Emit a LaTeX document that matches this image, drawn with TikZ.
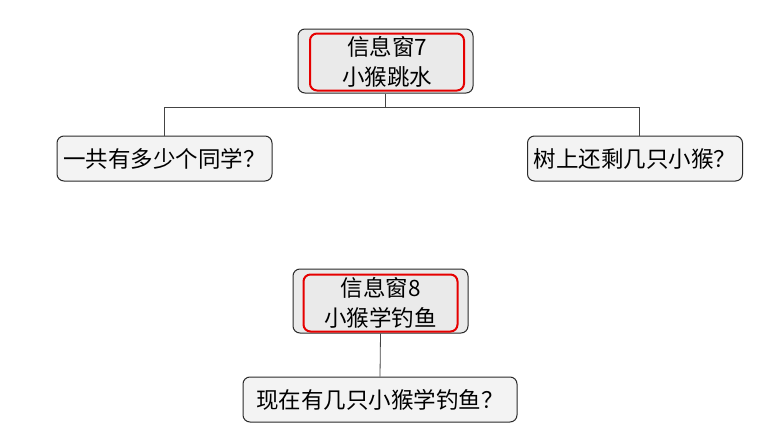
\documentclass[tikz,border=0pt]{standalone}
\usepackage{fontspec}
\setmainfont{Noto Sans CJK SC}
\definecolor{ink}{HTML}{2A2A2A}
\definecolor{line}{HTML}{444444}
\definecolor{mark}{HTML}{E60000}
\definecolor{paper}{HTML}{EAEAEA}
\definecolor{paper2}{HTML}{F3F3F3}
\usetikzlibrary{positioning}

\begin{document}
\begin{tikzpicture}[
  x=1pt,y=1pt,
  font=\fontsize{22.5}{30}\selectfont,
  window/.style={draw=ink,line width=1pt,fill=paper,rounded corners=7pt,
    minimum width=175pt,minimum height=64pt,inner sep=0pt},
  title/.style={draw=mark,line width=2pt,rounded corners=7pt,
    minimum width=154pt,minimum height=57pt,align=center,inner sep=0pt},
  question/.style={draw=ink,line width=1pt,fill=paper2,rounded corners=7pt,
    minimum height=45pt,minimum width=215pt,inner xsep=5pt,inner ysep=0pt},
  link/.style={line,line width=0.8pt}
]
\useasboundingbox (0,0) rectangle (774,-439);

\node[window] (win7) at (385.5,-61) {};
\node[title] (win7t) at (387,-62) {信息窗7\\小猴跳水};
\node[question] (count) at (164.5,-158.5) {一共有多少个同学？};
\node[question] (left) at (635,-158.5) {树上还剩几只小猴？};

\node[window] (win8) at (380.5,-301) {};
\node[title] (win8t) at (380.5,-303) {信息窗8\\小猴学钓鱼};
\node[question,minimum width=274pt] (fish) at (380,-399.5) {现在有几只小猴学钓鱼？};

\draw[link] (win7.south) -- ++(0,-14) coordinate (fork) -| (count.north);
\draw[link] (fork) -| ([xshift=4pt]left.north);
\draw[link] (win8.south) -- (fish.north);

\end{tikzpicture}
\end{document}
